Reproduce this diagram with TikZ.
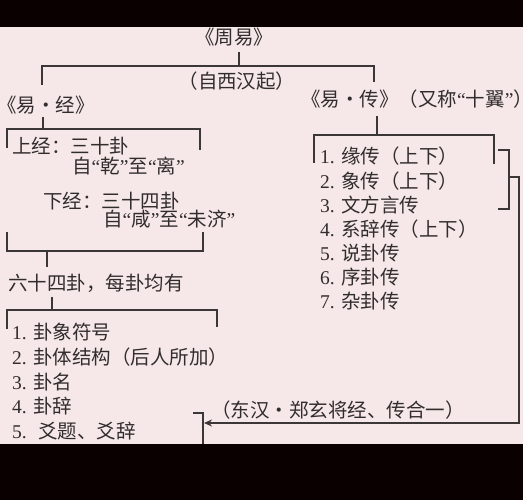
\documentclass[tikz,border=0pt]{standalone}
\usepackage{fontspec}
\setmainfont{Liberation Serif}
\newfontfamily\cjk{Noto Sans CJK SC}
\newcommand{\lqm}{{\rmfamily “}}
\newcommand{\rqm}{{\rmfamily ”}}
\usetikzlibrary{arrows.meta}
\definecolor{bgpink}{RGB}{246,232,232}
\definecolor{ink}{RGB}{50,45,45}
\definecolor{lin}{RGB}{60,55,55}
\begin{document}
\begin{tikzpicture}[x=1pt,y=-1pt,
  lbl/.style={inner sep=0pt,anchor=west,font=\fontsize{19.5}{19.5}\selectfont,text=ink,text height=16pt,text depth=2.8pt},
  ln/.style={draw=lin,line width=1.1pt},
  arr/.style={ln,-{Stealth[length=8pt,width=7pt]}}]
\useasboundingbox (0,0) rectangle (523,500);
\fill[black!96!red] (0,0) rectangle (523,500);
\fill[bgpink] (0,27) rectangle (523,444);
% top
\node[lbl,anchor=center] (zy) at (234,38) {\cjk 《周易》};
\node[lbl,anchor=center] (xh) at (237,82) {\cjk （自西汉起）};
\node[lbl] (yj) at (-3,106) {\cjk 《易·经》};
\node[lbl] (yz) at (301,100) {\cjk 《易·传》（又称\lqm 十翼\rqm ）};
\coordinate (t1) at (239,66);
\draw[ln] (239,52) -- (t1);
\draw[ln] (42,85) -- (42,66) -- (374,66) -- (374,82);
% left
\draw[ln] (43,117) -- (43,129);
\draw[ln] (7,148) -- (7,129) -- (200,129) -- (200,150);
\node[lbl] (sj1) at (12,147) {\cjk 上经：三十卦};
\node[lbl] (sj2) at (72,167) {\cjk 自\lqm 乾\rqm 至\lqm 离\rqm};
\node[lbl] (xj1) at (43,202) {\cjk 下经：三十四卦};
\node[lbl] (xj2) at (103,220) {\cjk 自\lqm 咸\rqm 至\lqm 未济\rqm};
\draw[ln] (7,232) -- (7,251) -- (203,251) -- (203,232);
\draw[ln] (47,251) -- (47,267);
\node[lbl] (lsg) at (8,284) {\cjk 六十四卦，每卦均有};
\draw[ln] (52,297) -- (52,310);
\draw[ln] (7,329) -- (7,310) -- (217,310) -- (217,327);
\node[lbl] (g1) at (12,333) {1. \cjk 卦象符号};
\node[lbl] (g2) at (12,358) {2. \cjk 卦体结构（后人所加）};
\node[lbl] (g3) at (12,383) {3. \cjk 卦名};
\node[lbl] (g4) at (12,407) {4. \cjk 卦辞};
\node[lbl] (g5) at (12,432) {5. \ \cjk 爻题、爻辞};
\draw[ln] (193,413) -- (203,413) -- (203,444);
% right
\draw[ln] (377,116) -- (377,135);
\draw[ln] (314,163) -- (314,135) -- (494,135) -- (494,164);
\node[lbl] (z1) at (320,157) {1. \cjk 缘传（上下）};
\node[lbl] (z2) at (320,182) {2. \cjk 象传（上下）};
\node[lbl] (z3) at (320,206) {3. \cjk 文方言传};
\node[lbl] (z4) at (320,230) {4. \cjk 系辞传（上下）};
\node[lbl] (z5) at (320,254) {5. \cjk 说卦传};
\node[lbl] (z6) at (320,278) {6. \cjk 序卦传};
\node[lbl] (z7) at (320,302) {7. \cjk 杂卦传};
\draw[ln] (498,150) -- (509,150) -- (509,209) -- (498,209);
\coordinate (ra) at (509,177);
\coordinate (rb) at (519,423);
\coordinate (tip) at (204,423);
\draw[arr] (ra) -- (519,177) -- (rb) -- (tip);
\node[lbl,anchor=center] (dh) at (338,411) {\cjk （东汉·郑玄将经、传合一）};
\end{tikzpicture}
\end{document}
